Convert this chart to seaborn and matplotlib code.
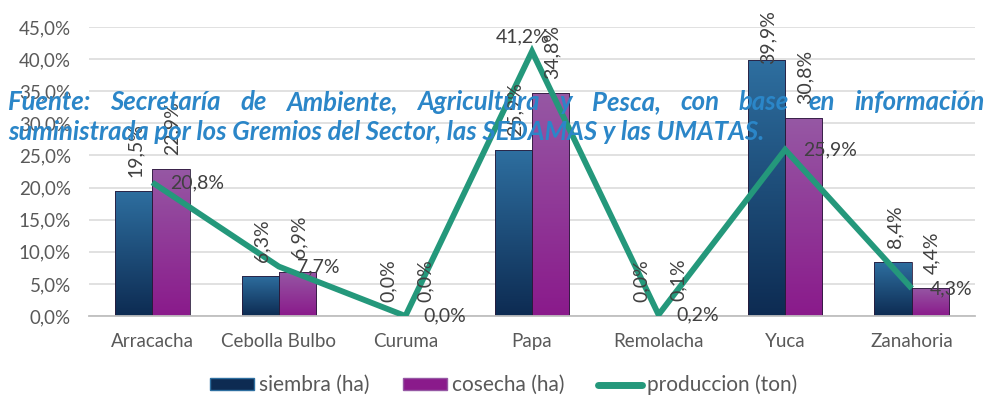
import numpy as np
import pandas as pd
import matplotlib
matplotlib.use("Agg")
import matplotlib.pyplot as plt
import matplotlib.colors as mcolors
from matplotlib.patches import Patch
from matplotlib.lines import Line2D
import seaborn as sns

# ---- data -------------------------------------------------------------
cultivos = ["Arracacha", "Cebolla Bulbo", "Curuma", "Papa", "Remolacha", "Yuca", "Zanahoria"]
siembra = [19.5, 6.3, 0.0, 25.9, 0.0, 39.9, 8.4]
cosecha = [22.9, 6.9, 0.0, 34.8, 0.1, 30.8, 4.4]
produccion = [20.8, 7.7, 0.0, 41.2, 0.2, 25.9, 4.3]
series = ["siembra (ha)", "cosecha (ha)", "produccion (ton)"]
y_ticks = [0, 5, 10, 15, 20, 25, 30, 35, 40, 45]
fuente_l1 = "Fuente: Secretaría de Ambiente, Agricultura y Pesca, con base en información"
fuente_l2 = "suministrada por los Gremios del Sector, las SEDAMAS y las UMATAS."

# ---- style ------------------------------------------------------------
sns.set_theme(style="white")
plt.rcParams["font.family"] = ["Lato", "DejaVu Sans"]

BLUE_TOP, BLUE_BOT = "#2e6fa0", "#0d2b52"
PURP_TOP, PURP_BOT = "#9658a4", "#8a1a8b"
TEAL = "#24987b"
TICK_GREY = "#595959"
LABEL_GREY = "#404040"
NOTE_BLUE = "#2b86c8"
LABEL_SIZE = 14


def pct(v):
    return f"{v:.1f}%".replace(".", ",")


bars_df = pd.DataFrame({
    "cultivo": cultivos * 2,
    "valor": siembra + cosecha,
    "serie": [series[0]] * len(cultivos) + [series[1]] * len(cultivos),
})
prod_df = pd.DataFrame({"cultivo": cultivos, "valor": produccion})

fig = plt.figure(figsize=(9.88, 3.98), dpi=100)
W, H = fig.bbox.width, fig.bbox.height
ax = fig.add_axes([89 / 988, 1 - 316 / 398, (975 - 89) / 988, (316 - 27) / 398])

sns.barplot(data=bars_df, x="cultivo", y="valor", hue="serie",
            palette=[BLUE_BOT, PURP_BOT], width=0.59, saturation=1,
            legend=False, ax=ax)

bar_patches = list(ax.patches)

# vertical gradient fill for every bar
grad = np.linspace(0, 1, 256).reshape(-1, 1)
cmaps = [mcolors.LinearSegmentedColormap.from_list("b", [BLUE_BOT, BLUE_TOP]),
         mcolors.LinearSegmentedColormap.from_list("p", [PURP_BOT, PURP_TOP])]
n = len(cultivos)
for i, p in enumerate(bar_patches):
    cmap = cmaps[i // n]
    x0, w, h = p.get_x(), p.get_width(), p.get_height()
    p.set_facecolor("none")
    p.set_edgecolor("#2a1a3a")
    p.set_linewidth(0.6)
    p.set_zorder(2.1)
    if h <= 0:
        continue
    im = ax.imshow(grad, extent=[x0, x0 + w, 0, h], origin="lower",
                   aspect="auto", cmap=cmap, zorder=2.0, interpolation="bilinear")
    im.set_clip_path(p)

# production line
n_lines = len(ax.lines)
sns.pointplot(data=prod_df, x="cultivo", y="valor", color=TEAL,
              markers="o", markersize=0, linewidth=4.2, errorbar=None, ax=ax)
line = ax.lines[n_lines]
line.set_zorder(3)
line.set_solid_joinstyle("miter")
line.set_solid_capstyle("butt")

# axes cosmetics
ax.set_xlim(-0.5, n - 0.5)
ax.set_ylim(0, 45)
ax.set_yticks(y_ticks)
ax.set_yticklabels([pct(t) for t in y_ticks])
ax.set_xlabel("")
ax.set_ylabel("")
ax.grid(axis="y", color="#d9d9d9", linewidth=1.1)
ax.grid(axis="x", visible=False)
ax.set_axisbelow(True)
for s in ["top", "right", "left"]:
    ax.spines[s].set_visible(False)
ax.spines["bottom"].set_color("#bfbfbf")
ax.spines["bottom"].set_linewidth(1.3)
ax.tick_params(axis="y", length=0, pad=13, labelsize=13.5, labelcolor=TICK_GREY)
ax.tick_params(axis="x", length=0, pad=12, labelsize=13.5, labelcolor=TICK_GREY)

# rotated value labels above bars
bar_labels = []
for i, p in enumerate(bar_patches):
    vals = siembra if i < n else cosecha
    v = vals[i % n]
    t = ax.annotate(pct(v), xy=(p.get_x() + p.get_width() / 2, v),
                    xytext=(1, 10), textcoords="offset points",
                    rotation=90, ha="center", va="bottom",
                    fontsize=LABEL_SIZE, color=LABEL_GREY, zorder=4,
                    annotation_clip=False)
    bar_labels.append(t)

# production labels
label_above = {"Papa"}
for (x, y), name, v in zip(line.get_xydata(), cultivos, produccion):
    if name in label_above:
        ax.annotate(pct(v), xy=(x, y), xytext=(-7, 4), textcoords="offset points",
                    ha="center", va="bottom", fontsize=LABEL_SIZE, color=LABEL_GREY, zorder=4)
    else:
        ax.annotate(pct(v), xy=(x, y), xytext=(13, 0), textcoords="offset points",
                    ha="left", va="center", fontsize=LABEL_SIZE, color=LABEL_GREY, zorder=4)

# legend
handles = [Patch(facecolor=BLUE_BOT, edgecolor=BLUE_TOP),
           Patch(facecolor=PURP_BOT, edgecolor=PURP_TOP),
           Line2D([0], [0], color=TEAL, linewidth=5, solid_capstyle="round")]
fig.legend(handles, series, loc="lower center", bbox_to_anchor=(0.51, -0.04),
           ncol=3, frameon=False, fontsize=15, labelcolor=TICK_GREY,
           handlelength=2.1, handleheight=0.5, handletextpad=0.25, columnspacing=1.6)

fig.canvas.draw()
renderer = fig.canvas.get_renderer()

# keep tall bar labels inside the chart area
top_limit = H - 10
for t in bar_labels:
    bb = t.get_window_extent(renderer)
    if bb.y1 > top_limit:
        dx, dy = t.xyann
        t.xyann = (dx, dy - (bb.y1 - top_limit) * 72 / fig.dpi)

# source note, justified across the figure width
left_px, right_px, l2_right_px = 8, 985, 763
note_kw = dict(fontweight="bold", fontstyle="italic", color=NOTE_BLUE, zorder=10)
probe = fig.text(0, 0, fuente_l2, fontsize=17, **note_kw)
note_size = 17 * (l2_right_px - left_px) / probe.get_window_extent(renderer).width
probe.remove()

words = fuente_l1.split(" ")
texts = [fig.text(0, 0, w, fontsize=note_size, **note_kw) for w in words]
widths = [t.get_window_extent(renderer).width for t in texts]
gap = (right_px - left_px - sum(widths)) / (len(words) - 1)
x = left_px
for t, wd in zip(texts, widths):
    t.set_position((x / W, 1 - 110 / H))
    t.set_va("baseline")
    x += wd + gap

fig.text(left_px / W, 1 - 140 / H, fuente_l2, va="baseline", fontsize=note_size, **note_kw)

fig.savefig("out.png", dpi=100)
